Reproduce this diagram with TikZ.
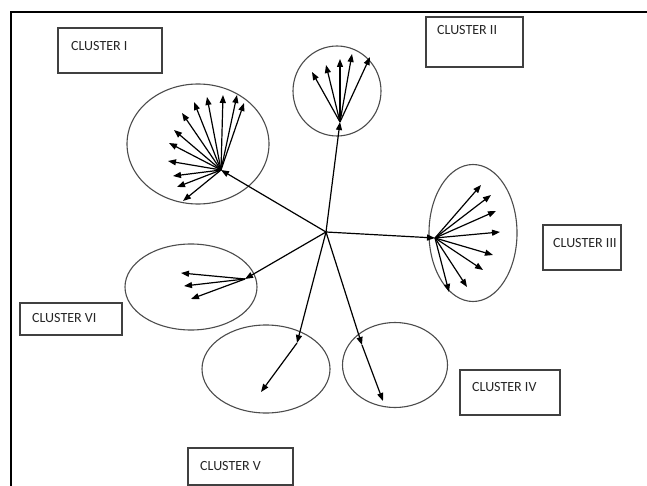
\documentclass[tikz,border=0pt]{standalone}
\usepackage{fontspec}
\setmainfont{Carlito}
\usetikzlibrary{arrows.meta,shapes.geometric}
\begin{document}
\begin{tikzpicture}[x=1pt,y=-1pt,
  arr/.style={draw=black,line width=1.2pt,-{Triangle[length=8pt,width=6pt]}},
  lbl/.style={draw=black!75,line width=1.2pt},
  clus/.style={ellipse,draw=black!70,line width=1.1pt,inner sep=0pt},
  txt/.style={font=\fontsize{14}{15}\selectfont,anchor=west,inner sep=0pt,text=black!85}]
\useasboundingbox (0,0) rectangle (647,486);
\fill[white] (0,0) rectangle (647,486);
% frame
\draw[line width=2pt] (11,500) -- (11,12) -- (660,12);
% label boxes
\draw[lbl] (58,28) rectangle (162,73);
\node[txt] (l1) at (71,46) {CLUSTER I};
\draw[lbl] (426,17) rectangle (523,67);
\node[txt] (l2) at (437,30) {CLUSTER II};
\draw[lbl] (543,225) rectangle (621,270);
\node[txt] (l3) at (553,243) {CLUSTER III};
\draw[lbl] (460,370) rectangle (560,415);
\node[txt] (l4) at (472,387) {CLUSTER IV};
\draw[lbl] (188,448) rectangle (293,485);
\node[txt] (l5) at (200,466) {CLUSTER V};
\draw[lbl] (20,303) rectangle (122,335);
\node[txt] (l6) at (32,318) {CLUSTER VI};
% ellipses
\node[clus,minimum width=142pt,minimum height=120pt] (e1) at (198,144) {};
\node[clus,minimum width=88pt,minimum height=90pt] (e2) at (337,91) {};
\node[clus,minimum width=88pt,minimum height=137pt] (e3) at (473,233) {};
\node[clus,minimum width=105pt,minimum height=85pt] (e4) at (395,365) {};
\node[clus,minimum width=128pt,minimum height=88pt] (e5) at (266,369) {};
\node[clus,minimum width=132pt,minimum height=86pt] (e6) at (191,287) {};
% hubs
\coordinate (c) at (326,232);
\coordinate (h1) at (221,170);
\coordinate (h2) at (340,122);
\coordinate (h3) at (435,238);
\coordinate (h4) at (362,345);
\coordinate (h5) at (297,343);
\coordinate (h6) at (245,279);
\foreach \h in {h1,h2,h3,h4,h5,h6} \draw[arr] (c) -- (\h);
\coordinate (t4) at (383,401);
\coordinate (t5) at (261,392);
\draw[arr] (h4) -- (t4);
\draw[arr] (h5) -- (t5);
% cluster I fan
\foreach \px/\py [count=\i] in {207/97,223/95,237/95,244/103,194/102,182/113,174/130,169/143,168/161,173/176,177/187,183/201}{
  \coordinate (a\i) at (\px,\py); \draw[arr] (h1) -- (a\i);}
% cluster II fan
\foreach \px/\py [count=\i] in {312/72,326/65,340/59,352/54,370/57}{
  \coordinate (b\i) at (\px,\py); \draw[arr] (h2) -- (b\i);}
% cluster III fan
\foreach \px/\py [count=\i] in {481/185,491/195,496/211,500/232,493/255,483/270,467/287,449/292}{
  \coordinate (d\i) at (\px,\py); \draw[arr] (h3) -- (d\i);}
% cluster VI fan
\foreach \px/\py [count=\i] in {181/273,184/286,191/299}{
  \coordinate (f\i) at (\px,\py); \draw[arr] (h6) -- (f\i);}
\end{tikzpicture}
\end{document}
